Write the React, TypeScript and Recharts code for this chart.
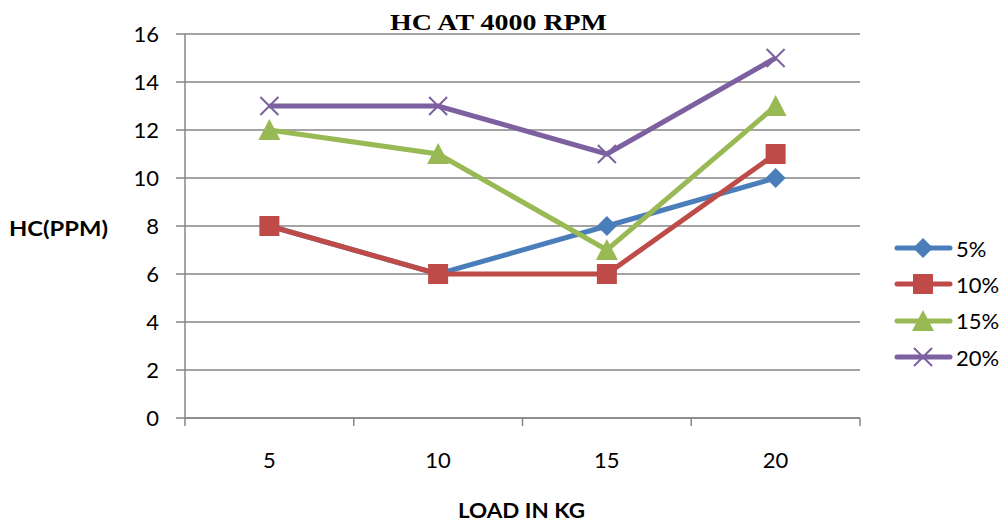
import { LineChart, Line, XAxis, YAxis, CartesianGrid, Label } from 'recharts';

const loads = [5, 10, 15, 20];
const blend5 = [8, 6, 8, 10];
const blend10 = [8, 6, 6, 11];
const blend15 = [12, 11, 7, 13];
const blend20 = [13, 13, 11, 15];
const yTicks = [0, 2, 4, 6, 8, 10, 12, 14, 16];
// category boundaries get a tick mark, category centres get a label
const xTicks = [2.5, 5, 7.5, 10, 12.5, 15, 17.5, 20, 22.5];

const rows = loads.map((load, i) => ({
    load,
    b5: blend5[i],
    b10: blend10[i],
    b15: blend15[i],
    b20: blend20[i],
}));

const series = [
    { key: 'b5', name: '5%', color: '#4A7EBB', shape: 'diamond' },
    { key: 'b10', name: '10%', color: '#BE4B48', shape: 'square' },
    { key: 'b15', name: '15%', color: '#98B954', shape: 'triangle' },
    { key: 'b20', name: '20%', color: '#7D60A0', shape: 'cross' },
];

const FONT = 'Lato, "Open Sans", sans-serif';
const AXIS = '#868686';

function Marker({ cx, cy, shape, color }: { cx: number; cy: number; shape: string; color: string }) {
    if (cx == null || cy == null) return null;
    if (shape === 'diamond') {
        const r = 10;
        return <path d={`M${cx},${cy - r}L${cx + r},${cy}L${cx},${cy + r}L${cx - r},${cy}Z`} fill={color} />;
    }
    if (shape === 'square') {
        return <rect x={cx - 10} y={cy - 10} width={20} height={20} fill={color} />;
    }
    if (shape === 'triangle') {
        return <path d={`M${cx},${cy - 11}L${cx + 11},${cy + 10}L${cx - 11},${cy + 10}Z`} fill={color} />;
    }
    const r = 9;
    return (
        <path
            d={`M${cx - r},${cy - r}L${cx + r},${cy + r}M${cx - r},${cy + r}L${cx + r},${cy - r}`}
            stroke={color}
            strokeWidth={2}
            fill="none"
        />
    );
}

function XTick({ x, y, payload }: any) {
    const v = payload.value;
    if (v % 5 !== 0) {
        return <line x1={x} y1={y} x2={x} y2={y + 8} stroke={AXIS} strokeWidth={1.5} />;
    }
    return (
        <text x={x} y={y + 50} textAnchor="middle" fontSize={22} fontFamily={FONT} fill="#000">
            {v}
        </text>
    );
}

function LegendBox() {
    return (
        <div style={{ position: 'absolute', left: 894, top: 230, fontFamily: FONT, fontSize: 22, color: '#000' }}>
            {series.map((s) => (
                <div key={s.key} style={{ display: 'flex', alignItems: 'center', height: 36.3 }}>
                    <svg width={60} height={24}>
                        <line x1={3} y1={12} x2={56} y2={12} stroke={s.color} strokeWidth={5} strokeLinecap="round" />
                        <Marker cx={29} cy={12} shape={s.shape} color={s.color} />
                    </svg>
                    <span style={{ marginLeft: 2 }}>{s.name}</span>
                </div>
            ))}
        </div>
    );
}

export default function App() {
    return (
        <div style={{ position: 'absolute', left: 0, top: 0, width: 1004, height: 523, background: '#fff' }}>
            <LineChart width={1004} height={523} data={rows} margin={{ top: 34, right: 144, bottom: 45, left: 0 }}>
                <CartesianGrid vertical={false} stroke={AXIS} strokeWidth={1.5} />
                <XAxis
                    dataKey="load"
                    type="number"
                    domain={[2.5, 22.5]}
                    ticks={xTicks}
                    interval={0}
                    tick={<XTick />}
                    tickLine={false}
                    tickSize={0}
                    tickMargin={0}
                    height={60}
                    stroke={AXIS}
                    strokeWidth={1.5}
                >
                    <Label
                        content={() => (
                            <text
                                x={458}
                                y={518}
                                textLength={127}
                                lengthAdjust="spacingAndGlyphs"
                                fontSize={21}
                                fontWeight="bold"
                                fontFamily={FONT}
                                fill="#000"
                            >
                                LOAD IN KG
                            </text>
                        )}
                    />
                </XAxis>
                <YAxis
                    width={185}
                    domain={[0, 16]}
                    ticks={yTicks}
                    interval={0}
                    tickSize={9}
                    tickMargin={17}
                    tick={{ fontSize: 22, fontFamily: FONT, fill: '#000' }}
                    stroke={AXIS}
                    strokeWidth={1.5}
                >
                    <Label
                        content={() => (
                            <text
                                x={9}
                                y={236}
                                textLength={99}
                                lengthAdjust="spacingAndGlyphs"
                                fontSize={21}
                                fontWeight="bold"
                                fontFamily={FONT}
                                fill="#000"
                            >
                                HC(PPM)
                            </text>
                        )}
                    />
                </YAxis>
                {series.map((s) => (
                    <Line
                        key={s.key}
                        dataKey={s.key}
                        name={s.name}
                        stroke={s.color}
                        strokeWidth={5}
                        isAnimationActive={false}
                        dot={(p: any) => <Marker key={p.index} cx={p.cx} cy={p.cy} shape={s.shape} color={s.color} />}
                        activeDot={false}
                    />
                ))}
                <text
                    x={390}
                    y={30}
                    textLength={217}
                    lengthAdjust="spacingAndGlyphs"
                    fontSize={23}
                    fontWeight="bold"
                    fontFamily='"Liberation Serif", "Times New Roman", serif'
                    fill="#000"
                >
                    HC AT 4000 RPM
                </text>
            </LineChart>
            <LegendBox />
        </div>
    );
}
